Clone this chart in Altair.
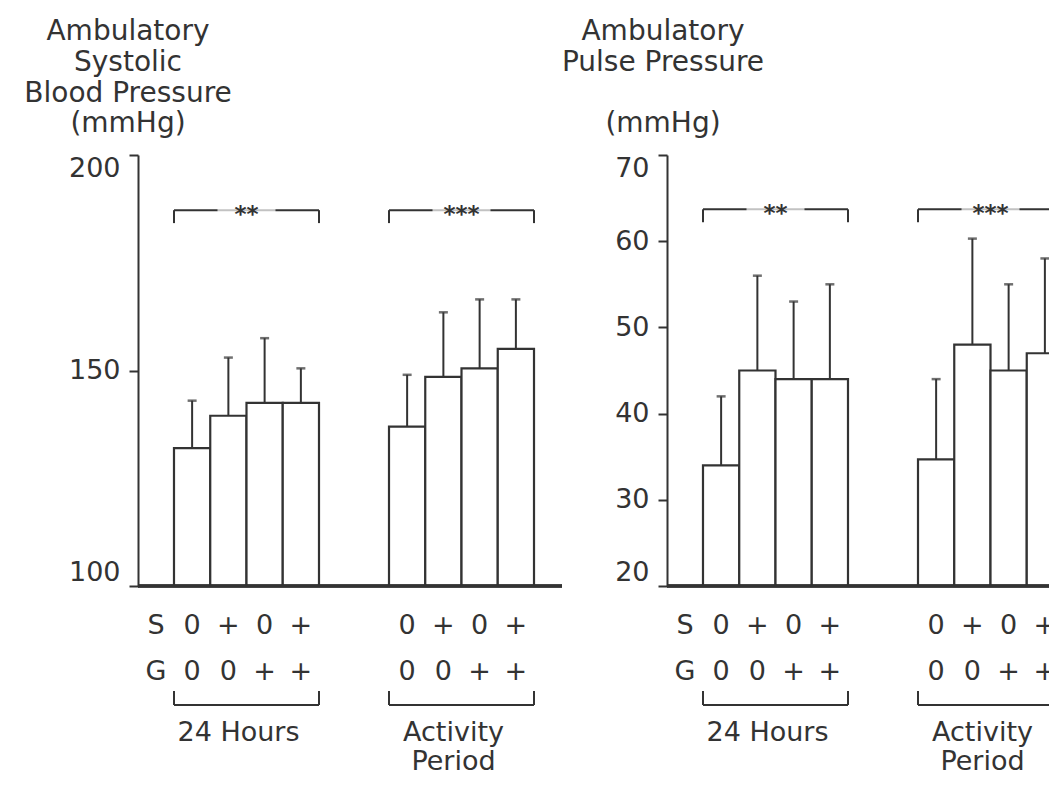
import altair as alt
import pandas as pd

# ---------------- data ----------------
periods = ["24 Hours", "Activity Period"]
period_text = ["24 Hours", "Activity\nPeriod"]
conditions = ["S0 G0", "S+ G0", "S0 G+", "S+ G+"]
s_marks = ["0", "+", "0", "+"]
g_marks = ["0", "0", "+", "+"]

sbp_mean_24h = [132, 139.5, 142.5, 142.5]
sbp_sd_24h = [11, 13.5, 15, 8]
sbp_mean_act = [137, 148.5, 150.5, 155]
sbp_sd_act = [12, 15, 16, 11.5]

pp_mean_24h = [34, 45, 44, 44]
pp_sd_24h = [8, 11, 9, 11]
pp_mean_act = [34.7, 48, 45, 47]
pp_sd_act = [9.3, 12.3, 10, 11]

sig_labels = ["**", "***"]
sbp_sig_level = [187.2, 187.2]
sbp_sig_drop = [184.2, 184.2]
pp_sig_level = [63.7, 63.7]
pp_sig_drop = [62.2, 62.2]

sbp_ticks = [100, 150, 200]
pp_ticks = [20, 30, 40, 50, 60, 70]

INK = "#333333"
FONT = "DejaVu Sans"
FULL_W = 424      # full width of one panel's bar area
H = 431           # height of the value axis
G = 620           # view height (room for the brackets under the axis)


def bars_frame(m24, s24, mact, sact):
    rows = []
    for p, means, sds in [(periods[0], m24, s24), (periods[1], mact, sact)]:
        for c, sm, gm, m, sd in zip(conditions, s_marks, g_marks, means, sds):
            rows.append({"period": p, "cond": c, "s": sm, "g": gm,
                         "mean": m, "upper": m + sd})
    return pd.DataFrame(rows)


def panel(df, title_lines, sub_pad, domain, ticks, sig_level, sig_drop, title_dx, view_w):
    xscale = alt.Scale(domain=periods, range=[0, FULL_W], paddingInner=0.3256,
                       paddingOuter=0.1488, align=0.5625)
    x = alt.X("period:N", scale=xscale, axis=None)
    xo = alt.XOffset("cond:N", sort=conditions,
                     scale=alt.Scale(domain=conditions, paddingInner=0, paddingOuter=0))
    yscale = alt.Scale(domain=domain, range=[H, 0], nice=False, zero=False)
    yaxis = alt.Axis(values=ticks, title=None, grid=False, labelFlush=True,
                     domainColor=INK, domainWidth=2, tickColor=INK, tickWidth=2,
                     tickSize=9, labelFont=FONT, labelFontSize=27,
                     labelColor=INK, labelPadding=9)
    txt = dict(font=FONT, fontSize=27, color=INK, baseline="alphabetic")

    base = alt.Chart(df)
    bars = base.mark_bar(fill="white", stroke=INK, strokeWidth=2.2, clip=True).encode(
        x=x, xOffset=xo, y=alt.Y("mean:Q", scale=yscale, axis=yaxis),
        y2=alt.datum(domain[0]))
    err = base.mark_rule(color=INK, strokeWidth=2, clip=True).encode(
        x=x, xOffset=xo, y="mean:Q", y2="upper:Q")
    caps = base.mark_tick(color=INK, orient="horizontal", size=9, thickness=2.5,
                          clip=True).encode(x=x, xOffset=xo, y="upper:Q")
    baseline = base.mark_rule(color=INK, strokeWidth=2.5, clip=True).encode(
        y=alt.datum(domain[0]))

    s_row = base.mark_text(**txt).encode(
        x=x, xOffset=xo, y=alt.value(H + 48), text="s:N")
    g_row = base.mark_text(**txt).encode(
        x=x, xOffset=xo, y=alt.value(H + 94), text="g:N")

    row_names = pd.DataFrame({"period": [periods[0]], "sname": ["S"], "gname": ["G"]})
    s_name = alt.Chart(row_names).mark_text(dx=-18, **txt).encode(
        x=alt.X("period:N", bandPosition=0), y=alt.value(H + 48), text="sname:N")
    g_name = alt.Chart(row_names).mark_text(dx=-18, **txt).encode(
        x=alt.X("period:N", bandPosition=0), y=alt.value(H + 94), text="gname:N")

    grp = pd.DataFrame({"period": periods, "ptext": period_text, "sig": sig_labels,
                        "level": sig_level, "drop": sig_drop})
    g = alt.Chart(grp)
    # significance brackets above the bars
    sig_line = g.mark_rect(fillOpacity=0, stroke=INK, strokeWidth=2, clip=True).encode(
        x="period:N", y="level:Q", y2="level:Q")
    sig_mask = g.mark_tick(color="white", orient="horizontal", size=58, thickness=8,
                           clip=True).encode(x="period:N", y="level:Q")
    sig_left = g.mark_rule(color=INK, strokeWidth=2, clip=True).encode(
        x=alt.X("period:N", bandPosition=0), y="level:Q", y2="drop:Q")
    sig_right = g.mark_rule(color=INK, strokeWidth=2, clip=True).encode(
        x=alt.X("period:N", bandPosition=1), y="level:Q", y2="drop:Q")
    sig_text = g.mark_text(font=FONT, fontSize=23, fontWeight="bold", color=INK,
                           baseline="middle", dy=5, clip=True).encode(
        x="period:N", y="level:Q", text="sig:N")

    # brackets and labels under the axis
    low_line = g.mark_rect(fillOpacity=0, stroke=INK, strokeWidth=2, clip=True).encode(
        x="period:N", y=alt.value(H + 119), y2=alt.value(H + 119))
    low_left = g.mark_rule(color=INK, strokeWidth=2, clip=True).encode(
        x=alt.X("period:N", bandPosition=0), y=alt.value(H + 105), y2=alt.value(H + 119))
    low_right = g.mark_rule(color=INK, strokeWidth=2, clip=True).encode(
        x=alt.X("period:N", bandPosition=1), y=alt.value(H + 105), y2=alt.value(H + 119))
    plabel = g.mark_text(lineBreak="\n", lineHeight=29, dx=-8, **txt).encode(
        x="period:N", y=alt.value(H + 155), text="ptext:N")

    title = alt.Title(title_lines, subtitle=["(mmHg)"], anchor="start", align="center",
                      frame="group", dx=title_dx, font=FONT, fontSize=28,
                      fontWeight="normal", color=INK, lineHeight=31,
                      subtitleFont=FONT, subtitleFontSize=28, subtitleColor=INK,
                      subtitleLineHeight=31, subtitlePadding=sub_pad, offset=16)

    return alt.layer(bars, err, caps, baseline, s_row, g_row, s_name, g_name,
                     sig_line, sig_mask, sig_left, sig_right, sig_text,
                     low_line, low_left, low_right, plabel).properties(
        width=view_w, height=G, title=title)


left = panel(bars_frame(sbp_mean_24h, sbp_sd_24h, sbp_mean_act, sbp_sd_act),
             ["Ambulatory", "Systolic", "Blood Pressure"], 2,
             [100, 200], sbp_ticks, sbp_sig_level, sbp_sig_drop, -10, FULL_W)
right = panel(bars_frame(pp_mean_24h, pp_sd_24h, pp_mean_act, pp_sd_act),
              ["Ambulatory", "Pulse Pressure"], 33,
              [20, 70], pp_ticks, pp_sig_level, pp_sig_drop, -4, 391)

chart = alt.hconcat(left, right, spacing=105, bounds="flush").configure_view(
    strokeWidth=0, stroke="transparent").properties(
    background="white", padding={"left": 16, "top": 10, "right": -9, "bottom": -4})

chart.save("out.html", embed_options={"renderer": "svg", "actions": False})
